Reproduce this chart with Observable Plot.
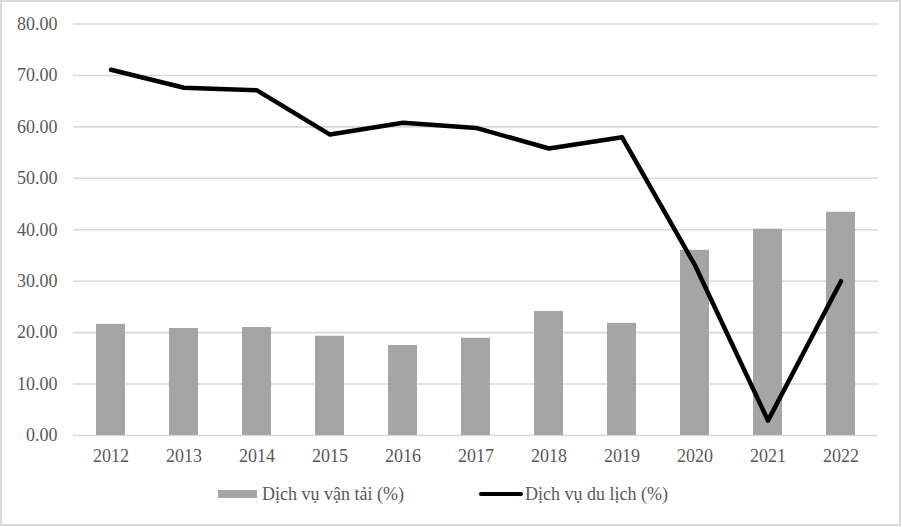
<!DOCTYPE html>
<html>
<head>
<meta charset="utf-8">
<script src="https://cdn.jsdelivr.net/npm/d3@7"></script>
<script src="https://cdn.jsdelivr.net/npm/@observablehq/plot@0.6"></script>
<style>
  html, body { margin: 0; padding: 0; background: #fff; }
  #wrap { position: relative; width: 902px; height: 527px; overflow: hidden; font-family: "Liberation Serif", "Times New Roman", "DejaVu Serif", serif; }
  #frame { position: absolute; left: 0; top: 0; width: 897px; height: 522px; border: 2px solid #d9d9d9; pointer-events: none; }
  #chart { position: absolute; left: 0; top: 0; }
  #chart text { font-family: "Liberation Serif", "Times New Roman", "DejaVu Serif", serif; }
  .leg { position: absolute; top: 482px; height: 24px; display: flex; align-items: center; font-size: 18px; color: #595959; white-space: nowrap; }
  .sw-bar { width: 39px; height: 8px; background: #a5a5a5; margin-right: 5px; }
  .sw-line { width: 44px; height: 4px; background: #000; border-radius: 2px; margin-right: 2px; }
</style>
</head>
<body>
<div id="wrap">
  <div id="chart"></div>
  <div class="leg" style="left:218px"><div class="sw-bar"></div><span>Dịch vụ vận tải (%)</span></div>
  <div class="leg" style="left:479px"><div class="sw-line"></div><span>Dịch vụ du lịch (%)</span></div>
  <div id="frame"></div>
</div>
<script>
const years = ["2012","2013","2014","2015","2016","2017","2018","2019","2020","2021","2022"];
const transport = [21.6, 20.8, 21.0, 19.3, 17.5, 18.9, 24.1, 21.8, 36.0, 40.1, 43.4];
const tourism = [71.1, 67.6, 67.1, 58.5, 60.8, 59.8, 55.8, 58.0, 33.1, 2.9, 30.0];
const yTicks = [0, 10, 20, 30, 40, 50, 60, 70, 80];

const data = years.map((y, i) => ({year: y, transport: transport[i], tourism: tourism[i]}));

const chart = Plot.plot({
  width: 902,
  height: 475,
  marginLeft: 73,
  marginRight: 24,
  marginTop: 23.5,
  marginBottom: 40,
  style: {fontFamily: '"Liberation Serif", "Times New Roman", "DejaVu Serif", serif', fontSize: "18px", color: "#595959", background: "transparent", overflow: "visible"},
  x: {domain: years, paddingInner: 0.6, paddingOuter: 0.3, label: null},
  y: {domain: [0, 80], label: null},
  marks: [
    Plot.ruleY(yTicks, {stroke: "#d9d9d9", strokeWidth: 1.6}),
    Plot.barY(data, {x: "year", y: "transport", fill: "#a5a5a5"}),
    Plot.line(data, {x: "year", y: "tourism", stroke: "#000", strokeWidth: 4.5, strokeLinejoin: "round", strokeLinecap: "round"}),
    Plot.axisY({ticks: yTicks, tickFormat: d3.format(".2f"), tickSize: 0, tickPadding: 16, label: null, fill: "#595959", fontSize: 18}),
    Plot.axisX({tickSize: 0, tickPadding: 14, label: null, fill: "#595959", fontSize: 18})
  ]
});
document.getElementById("chart").appendChild(chart);
</script>
</body>
</html>
